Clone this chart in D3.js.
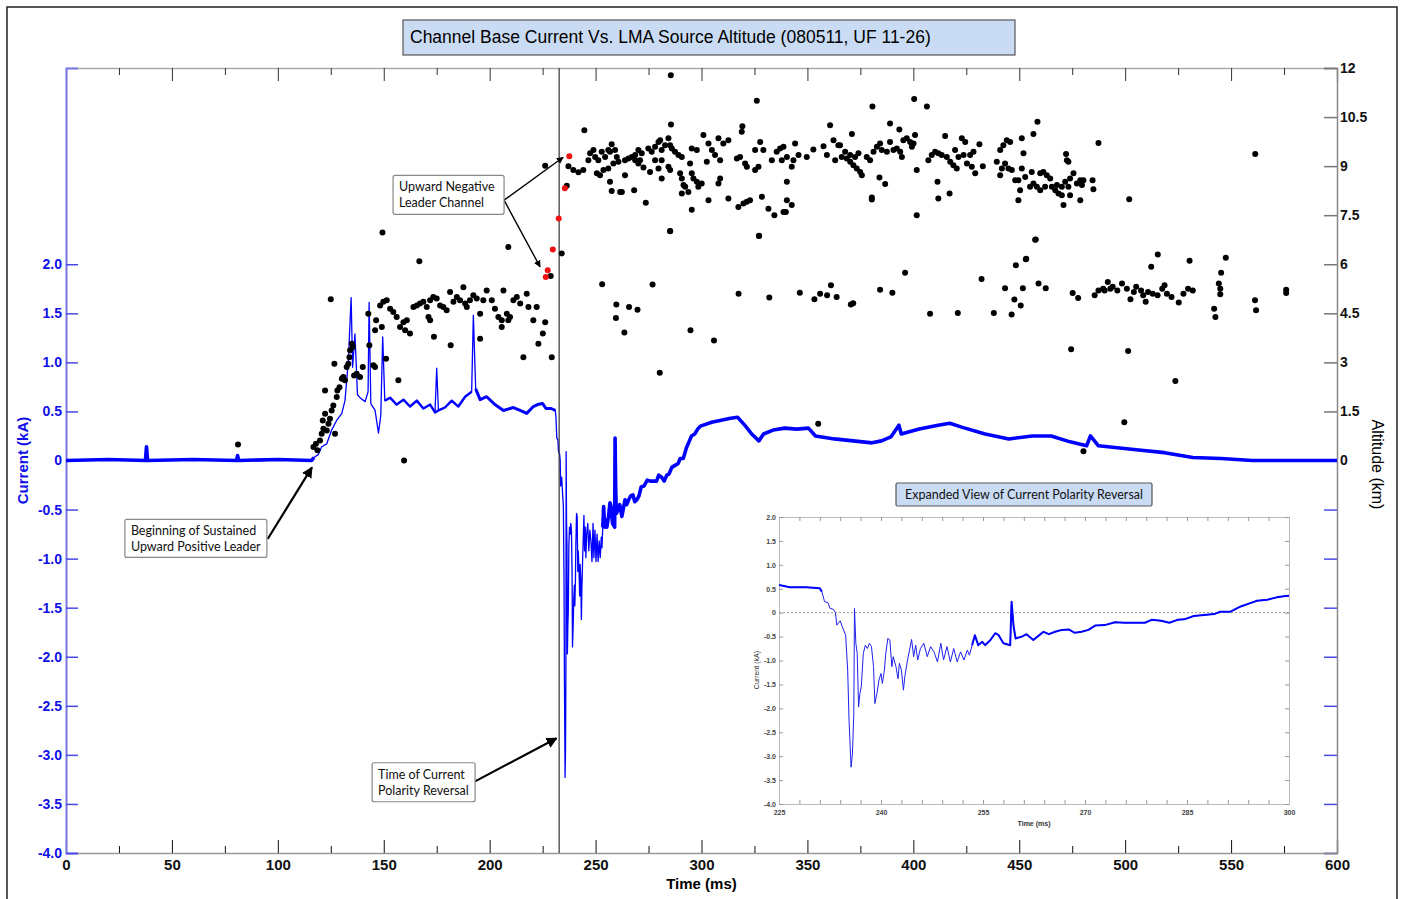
<!DOCTYPE html>
<html>
<head>
<meta charset="utf-8">
<script src="https://cdn.jsdelivr.net/npm/d3@7"></script>
<style>
  body { margin: 0; background: #fff; }
  svg { display: block; }
</style>
</head>
<body>
<div id="chart"></div>
<script>
// ---- data ----
const titleText = "Channel Base Current Vs. LMA Source Altitude (080511, UF 11-26)"
const insetTitle = "Expanded View of Current Polarity Reversal"

const timeTicks = d3.range(0, 601, 50)
const timeMinor = d3.range(25, 600, 50)
const currentTicks = [-4, -3.5, -3, -2.5, -2, -1.5, -1, -0.5, 0, 0.5, 1, 1.5, 2]
const altTicks = [0, 1.5, 3, 4.5, 6, 7.5, 9, 10.5, 12]
const insetTimeTicks = d3.range(225, 301, 3)
const insetCurrentTicks = d3.range(-4, 2.01, 0.5)

const reversalTime = 232.8

// channel base current [ms, kA]
const currentPoints = [
  [0,0],[20,0.01],[37.5,0],[38,0.14],[38.5,0],[60,0.01],[80.5,0],[81,0.05],[81.5,0],[100,0.01],
  [116,0],[117,0.03],[119.1,0.06],[120.7,0.14],[123.1,0.17],[125.4,0.31],[127.8,0.41],[130.2,0.48],
  [131.7,0.61],[133.3,1.02],[134.6,1.66],[135.3,0.95],[136.4,1.29],[137.6,0.67],[138.8,0.64],[141.2,0.6],
  [142.6,0.7],[143.1,1.61],[143.9,0.58],[145.9,0.51],[147.5,0.28],[148.6,0.46],[149.5,1.26],[150.5,0.61],
  [153,0.64],[156.1,0.57],[159.3,0.62],[162.4,0.55],[165.6,0.61],[168.7,0.53],[171.9,0.57],[174.2,0.49],
  [175,0.94],[175.8,0.51],[178.9,0.54],[182.1,0.61],[185.2,0.55],[188.4,0.65],[191.5,0.7],[192.3,1.48],
  [193.4,0.73],[195.5,0.62],[198.6,0.65],[202.5,0.57],[206.5,0.51],[211.2,0.54],[214.4,0.51],[217.5,0.48],
  [220.6,0.55],[222.6,0.57],
  [225,0.58],[226.6,0.53],[229,0.53],[231,0.51],[231.3,0.44],[231.7,0.23],[232.2,0.21],[232.5,0.09],
  [233,0.07],[233.3,0],[233.5,-0.26],[234,-0.17],[234.3,-0.29],[234.8,-0.47],[235.1,-1.2],[235.3,-2.25],
  [235.6,-3.23],[235.8,-2.95],[236,-2.11],[236.1,0.09],[236.3,-0.64],[236.5,-0.85],[236.7,-1.97],[236.9,-1.69],
  [237.1,-1.55],[237.4,-0.85],[237.7,-0.68],[238,-0.75],[238.3,-0.64],[238.6,-0.71],[238.9,-1.13],[239.1,-1.9],
  [239.4,-1.69],[239.7,-1.41],[240,-1.27],[240.2,-1.48],[240.5,-1.2],[240.7,-0.85],[241,-0.54],[241.3,-0.57],
  [241.6,-1.13],[241.8,-0.92],[242.2,-1.13],[242.5,-1.38],[242.7,-1.06],[243,-1.2],[243.3,-1.62],[243.5,-1.34],
  [243.9,-0.99],[244.2,-0.78],[244.5,-0.56],[244.8,-0.92],[245.1,-0.68],[245.4,-0.99],[245.8,-0.75],[246.3,-0.64],
  [246.8,-0.92],[247.3,-0.71],[247.8,-0.82],[248.3,-1.03],[248.8,-0.64],[249.2,-0.99],[249.7,-0.71],[250.2,-1.03],
  [250.7,-0.75],[251.2,-1.03],[251.7,-0.82],[252.2,-0.99],[252.7,-0.78],[253,-0.89],[253.4,-0.68],[253.8,-0.47],
  [254.3,-0.68],[254.9,-0.61],[255.3,-0.68],[256.1,-0.57],[256.8,-0.43],[257.3,-0.47],[258,-0.64],[259,-0.68],
  [259.2,0.23],[259.5,-0.29],[259.8,-0.54],[260.7,-0.5],[261.4,-0.45],[262.4,-0.57],[263.1,-0.49],[263.9,-0.4],
  [264.7,-0.45],[265.6,-0.4],[266.6,-0.36],[267.6,-0.35],[268.5,-0.42],[269.5,-0.4],[270.5,-0.36],[271.5,-0.27],
  [272.9,-0.26],[274.4,-0.2],[275.8,-0.21],[277.3,-0.21],[278.8,-0.21],[279.8,-0.15],[281.2,-0.17],[282.4,-0.21],
  [283.6,-0.15],[284.6,-0.14],[286,-0.07],[287.5,-0.05],[289,-0.03],[289.9,0.02],[291.4,0.02],[292.9,0.13],
  [294.3,0.2],[295.3,0.25],[296.8,0.27],[298.2,0.32],[299.5,0.35],
  [304.8,0.39],[309.3,0.41],[313.7,0.43],[317.1,0.44],[320.4,0.36],[323.7,0.27],[327.1,0.2],[329.3,0.27],
  [333.8,0.31],[339.3,0.33],[344.9,0.32],[350.5,0.33],[353.8,0.25],[362.7,0.22],[371.6,0.2],[380.5,0.18],
  [385,0.2],[389.4,0.24],[393.2,0.36],[394.3,0.27],[402.8,0.32],[411.7,0.36],[417.2,0.38],[422.8,0.34],
  [433.9,0.27],[445.1,0.22],[456.2,0.25],[465.1,0.25],[474,0.19],[481.8,0.15],[483.6,0.25],[487.4,0.15],
  [505.2,0.11],[518.6,0.08],[531.9,0.03],[545.3,0.02],[560,0],[600,0]
]

// LMA sources [ms, km]
const lmaPoints = [
  [81.2,0.49],[159.6,0],
  [116.8,0.41],[118,0.51],[118.7,0.31],[119.9,0.61],[120.7,0.82],[121.5,0.97],[121.2,1.22],[122.3,1.43],
  [123.1,0.92],[123.9,1.12],[124.6,1.28],[125.4,1.53],[126.2,1.68],[127,0.82],[127.8,1.94],[128.1,2.14],
  [129.1,2.24],[130.2,2.5],[130.9,2.55],[131.7,2.45],[132.5,2.86],[133.3,2.96],[133.8,3.16],[134.1,3.37],
  [134.9,3.57],[135.4,3.47],[136,2.6],[137.2,2.65],[138.8,2.55],[140.1,2.86],[142.7,4.49],[143.2,3.52],
  [145.1,2.91],[145.9,2.86],[151.1,3.11],[149.1,4.08],[146.4,4.29],[145.9,3.98],[125,4.93],[122.3,2.14],
  [126.7,2.96],[156.9,2.45],[149.4,6.97],[166.8,6.09],
  [148.3,4.74],[149.8,4.85],[151.4,4.9],[153,4.64],[154.5,4.54],[156.1,4.39],[157.7,4.08],[159.3,4.23],
  [160.1,3.98],[162.4,3.88],[160.9,4.29],[164,4.69],[165.6,4.74],[167.1,4.8],[168.7,4.85],[170.3,4.69],
  [171.9,4.9],[173.4,5],[175,4.95],[171.1,4.39],[171.9,4.29],[173.7,3.78],[176.6,4.74],[178.1,4.69],
  [179.7,4.59],[181.3,5.15],[182.9,4.85],[184.5,5],[186,4.9],[187.6,5.3],[188.4,4.8],[189.2,4.69],
  [190.7,4.9],[192.3,5.05],[193.9,4.95],[195.5,4.49],[197,4.9],[198.6,5.2],[201,4.9],[202.5,4.64],
  [204.1,4.39],[205.7,4.29],[205.7,4.08],[208.1,4.49],[206.5,5.2],[208.8,4.29],[209.6,4.39],[211.2,4.9],
  [212.8,5],[214.4,4.8],[217.5,5.1],[218.3,4.69],[220.6,4.29],[222.2,4.69],[223,3.57],[225.1,3.88],
  [226.2,4.23],[215.9,3.16],[229.3,3.16],[181.6,3.52],[195.5,3.72],[208.8,6.53],[226.2,9.01],[228.8,5.64],
  [234,6.33],[236.4,8.4],
  [285.5,11.78],[326.1,11],[244.7,10.1],[285.6,10.27],[319.3,10.22],[319,10.05],[360.7,10.25],[257.6,9.67],
  [256,9.49],[249,9.49],[247.4,9.39],[246.6,9.18],[249.8,9.28],[252.9,9.44],[251.3,9.18],[254.5,9.28],
  [256.8,9.44],[259.2,9.49],[260,9.28],[260.8,9.13],[258.4,9.08],[256,8.93],[253.7,8.88],[250.6,8.78],
  [252.1,8.72],[237.2,9],[239.5,8.88],[241.9,8.81],[244.2,8.88],[263.9,9.18],[265.5,9.23],[267.1,9.28],
  [268.7,9.34],[270.2,9.49],[271.8,9.39],[271,9.18],[272.6,8.96],[274.9,9.54],[276.5,9.44],[278.1,9.59],
  [279.7,9.74],[281.2,9.49],[280.5,9.79],[282.8,9.64],[284.4,9.85],[285.2,9.64],[286,9.54],[287.5,9.44],
  [289.1,9.34],[290.7,9.28],[278.1,9.18],[281.2,9.18],[279.7,8.93],[275.7,8.82],[284.4,8.98],[285.2,8.88],
  [281.2,8.62],[289.9,8.78],[290.7,8.62],[291.5,8.42],[292.3,8.37],[290.7,8.16],[293.8,8.21],[294.6,9.08],
  [295.4,9.54],[297.8,9.49],[295.4,8.78],[296.2,8.62],[297.8,8.52],[298.5,8.37],[300.1,8.47],[300.9,9.95],
  [303.3,9.69],[304.9,9.49],[306.4,9.34],[308,9.85],[308.8,9.18],[310.3,9.69],[312.7,9.79],[302.5,9.13],
  [308.8,8.62],[308,8.47],[295.4,7.67],[303.3,7.96],[312.7,8.01],[316.7,9.23],[318.2,9.28],[320.6,9.08],
  [321.4,8.98],[317.4,7.75],[319.8,7.86],[321.4,7.91],[322.9,7.96],[325.3,8.88],[326.9,8.98],[328.5,8.06],
  [325.3,9.49],[327.7,9.74],[329.2,9.49],[333.2,9.18],[335.5,9.44],[337.1,9.54],[338.7,9.59],[337.9,9.18],
  [340.3,9.28],[343.4,9.18],[342.6,8.98],[344.2,9.69],[345.8,9.34],[349.7,9.28],[352.8,9.51],[357.6,9.61],
  [359.2,9.34],[362.3,9.79],[363.1,9.18],[364.6,9.64],[366.2,9.28],[340.3,8.52],[340.3,7.96],[342.6,7.81],
  [331.6,7.7],[334.4,7.5],[338.7,7.6],[339.8,7.6],[273.7,7.88],[285.2,7.02],[327.2,6.87],[270.2,9.08],
  [268.7,9.18],[261.6,8.21],[262.4,8.21],[257.6,8.24],[256.8,8.52],[263.9,8.72],[268.2,8.26],
  [380.7,10.82],[400.4,11.05],[406.4,10.82],[389,10.3],[393.4,10.12],[400.8,9.95],[371,9.98],[365.4,9.64],
  [367.8,9.44],[368.6,9.23],[370.2,9.13],[371.7,9.03],[373.3,8.93],[374.9,8.82],[375.7,8.72],[370.2,9.34],
  [372.5,9.28],[374.1,9.39],[378,9.28],[379.6,9.18],[381.2,9.44],[382.8,9.59],[384.3,9.69],[385.1,9.49],
  [387.5,9.44],[389,9.74],[390.6,9.49],[392.2,9.54],[393.8,9.44],[394.6,9.28],[395.3,9.79],[396.9,9.85],
  [398.5,9.74],[399.3,9.59],[400.1,9.69],[401.6,8.88],[384,8.65],[386.7,8.45],[380.4,8.04],[380.4,7.98],
  [411.4,8.52],[411.8,8.01],[417.1,8.16],[401.6,7.5],[407.1,9.18],[408.7,9.34],[410.3,9.44],[411.8,9.39],
  [413.4,9.34],[415,9.92],[415.8,9.28],[417.4,9.13],[418.9,9.03],[420.5,8.93],[419.7,9.49],[421.3,9.28],
  [422.9,9.85],[424.5,9.74],[423.7,9.34],[425.3,9.08],[426.8,9.34],[427.6,8.98],[428.4,9.44],[429.2,8.78],
  [431.2,9.67],[432.8,9],[439.4,9.13],[441,9.49],[442.5,9.64],[444.1,9.79],[445.7,9.74],[441.8,8.93],
  [443.3,9.08],[444.9,8.93],[446.5,8.88],[441,8.72],[451.2,9.85],[456.7,9.98],[458.6,10.36],[452,9.39],
  [451.2,8.93],[448.1,8.57],[449.6,8.57],[452.8,8.67],[455.9,8.82],[456.7,8.47],[458.3,8.37],[459.9,8.78],
  [461.4,8.82],[463,8.72],[464.6,8.62],[455.1,8.37],[459.9,8.26],[462.2,8.37],[465.4,8.37],[467,8.26],
  [468.5,8.16],[470.1,8.37],[471.7,8.52],[473.2,8.37],[474,8.62],[475.6,8.78],[477.2,8.47],[478.8,8.57],
  [479.6,8.42],[480.3,8.57],[472.5,9.18],[473.2,9.13],[472.1,9.37],[450.4,8.26],[449.6,7.96],[470.1,8.11],
  [470.9,7.81],[478.8,7.96],[484.6,8.57],[485,8.29],[487.4,9.71],[457.5,6.75],[453.3,6.17],[474,8.11],
  [467.8,8.42],[501.9,7.99],[561.4,9.37],
  [253.1,5.39],[259.8,4.77],[259.6,4.36],[263.6,3.91],[265.8,4.69],[269.8,4.61],[276.9,5.38],[280.3,2.68],
  [285.2,7.01],[294.8,3.98],[305.9,3.67],[317.5,5.1],[327.1,6.86],[332,4.98],[346.4,5.13],[353.3,4.93],
  [356,5.1],[359.3,5.05],[361.1,5.36],[363.8,5],[370.5,4.77],[371.6,4.81],[384.3,5.22],[390.1,5.13],
  [396.1,5.74],[355.1,1.12],[407.9,4.49],[421,4.51],[432.2,5.55],[438,4.51],[443.3,5.27],[446.4,4.46],
  [447.7,4.92],[448.4,5.97],[450.7,4.74],[451.7,5.27],[453.1,6.15],[457.8,6.76],[459.1,5.41],[462.5,5.27],
  [474.5,3.4],[475.2,5.12],[477.8,4.97],[480.3,0.28],[485.6,5.05],[487.4,5.2],[489.6,5.25],[490.3,5.2],
  [491.8,5.46],[493,5.25],[494.1,5.31],[496.3,5.2],[498.5,5.41],[500.8,5.25],[502.5,4.93],[504.1,5.15],
  [505.2,5.31],[507.5,5.2],[508.5,5.05],[509.7,4.85],[510.8,5.15],[513,5.1],[515.3,5.05],[517.5,5.25],
  [518.6,5.36],[519.7,5.1],[521.9,5],[525.3,4.83],[527.5,5.1],[529.7,5.25],[531.9,5.2],[512.3,5.92],
  [515.4,6.3],[530.4,6.11],[499.6,1.17],[501.4,3.35],[523.7,2.43],[542,4.64],[542.6,4.39],[544.2,5.41],
  [544.9,5.25],[545.3,5.74],[544.9,5.08],[547.5,6.2],[561.3,4.9],[561.8,4.59],[576,5.22],[576,5.12]
]

// sources marking the upward negative leader channel [ms, km]
const leaderPoints = [[226.5,5.61],[227.4,5.82],[229.8,6.45],[232.6,7.4],[235.5,8.32],[237.6,9.3]]

// annotations: text lines, box position (ms, value on axis), arrow tips
const notes = [
  { lines: ["Upward Negative", "Leader Channel"], axis: "alt", box: [154.4, 8.72], w: 111, h: 39,
    from: [206.8, 7.96], tips: [[234.7, 9.27], [223.8, 5.92]] },
  { lines: ["Beginning of Sustained", "Upward Positive Leader"], axis: "cur", box: [27.8, -0.6], w: 142, h: 38,
    from: [95.2, -0.8], tips: [[116.1, -0.07]] },
  { lines: ["Time of Current", "Polarity Reversal"], axis: "cur", box: [144.5, -3.08], w: 103, h: 39,
    from: [193.1, -3.27], tips: [[231.6, -2.83]] }
]

// ---- layout ----
const W = 1405, H = 899
const plot = { left: 66, right: 1337, top: 68, bottom: 853 }
const inset = { left: 779, right: 1289, top: 517, bottom: 804 }
const axisFont = "'Liberation Sans', Arial, sans-serif"
const noteFont = "Lato, 'Open Sans', sans-serif"
const blue = "#0000ff"
const oneDecimal = d => Math.abs(d) < 1e-9 ? "0" : d.toFixed(1)

const svg = d3.select("#chart").append("svg")
  .attr("width", W).attr("height", H)
  .attr("viewBox", [0, 0, W, H])

// outer frame
svg.append("rect")
  .attr("x", 7).attr("y", 7).attr("width", 1390).attr("height", 905)
  .attr("fill", "none").attr("stroke", "#222").attr("stroke-width", 1.5)

// scales
const x = d3.scaleLinear().domain([0, 600]).range([plot.left, plot.right])
const yCur = d3.scaleLinear().domain([-4, 4]).range([plot.bottom, plot.top])
const yAlt = d3.scaleLinear().domain([-12, 12]).range([plot.bottom, plot.top])

svg.append("defs").append("clipPath").attr("id", "plotclip")
  .append("rect").attr("x", plot.left).attr("y", plot.top)
  .attr("width", plot.right - plot.left).attr("height", plot.bottom - plot.top)

// ---- axes ----
const styleTicks = (g, color) => g.selectAll(".tick line").attr("stroke", color)

// bottom
svg.append("g")
  .attr("transform", `translate(0,${plot.bottom})`)
  .call(d3.axisBottom(x).tickValues(timeTicks).tickSize(-13).tickPadding(6).tickFormat(d => d))
  .call(g => g.select(".domain").attr("stroke", "#999").attr("stroke-width", 1.5))
  .call(g => styleTicks(g, "#111"))
  .call(g => g.selectAll("text").attr("font-family", axisFont).attr("font-size", 15)
    .attr("font-weight", "bold").attr("fill", "#111"))
svg.append("g")
  .attr("transform", `translate(0,${plot.bottom})`)
  .call(d3.axisBottom(x).tickValues(timeMinor).tickSize(-7).tickFormat(""))
  .call(g => g.select(".domain").remove())
  .call(g => styleTicks(g, "#111"))

// top
svg.append("g")
  .attr("transform", `translate(0,${plot.top})`)
  .call(d3.axisTop(x).tickValues(timeTicks).tickSize(-13).tickFormat(""))
  .call(g => g.select(".domain").attr("stroke", "#aaa").attr("stroke-width", 1.5))
  .call(g => styleTicks(g, "#333"))
svg.append("g")
  .attr("transform", `translate(0,${plot.top})`)
  .call(d3.axisTop(x).tickValues(timeMinor).tickSize(-7).tickFormat(""))
  .call(g => g.select(".domain").remove())
  .call(g => styleTicks(g, "#333"))

// left (current)
svg.append("g")
  .attr("transform", `translate(${plot.left},0)`)
  .call(d3.axisLeft(yCur).tickValues(currentTicks).tickSize(-12).tickPadding(4).tickFormat(oneDecimal))
  .call(g => g.select(".domain").attr("stroke", "#7878e6").attr("stroke-width", 2))
  .call(g => styleTicks(g, "#4a4ae8").attr("stroke-width", 1.5))
  .call(g => g.selectAll("text").attr("font-family", axisFont).attr("font-size", 14)
    .attr("font-weight", "bold").attr("fill", "#1010e8"))

// right (altitude)
svg.append("g")
  .attr("transform", `translate(${plot.right},0)`)
  .call(d3.axisLeft(yCur).tickValues(currentTicks.filter(d => d < 0)).tickSize(13).tickFormat(""))
  .call(g => g.select(".domain").remove())
  .call(g => styleTicks(g, "#4a4ae8").attr("stroke-width", 1.5))
svg.append("g")
  .attr("transform", `translate(${plot.right},0)`)
  .call(d3.axisRight(yAlt).tickValues(altTicks).tickSize(-13).tickPadding(3).tickFormat(d => String(d)))
  .call(g => g.select(".domain").attr("stroke", "#888").attr("stroke-width", 1.5))
  .call(g => styleTicks(g, "#777").attr("stroke-width", 1.5))
  .call(g => g.selectAll("text").attr("font-family", axisFont).attr("font-size", 14)
    .attr("font-weight", "bold").attr("fill", "#111"))

// axis titles
svg.append("text")
  .attr("x", x(300)).attr("y", 889)
  .attr("text-anchor", "middle")
  .attr("font-family", axisFont).attr("font-size", 15).attr("font-weight", "bold")
  .text("Time (ms)")
svg.append("text")
  .attr("transform", `translate(28,${yCur(0)}) rotate(-90)`)
  .attr("text-anchor", "middle")
  .attr("font-family", axisFont).attr("font-size", 15).attr("font-weight", "bold")
  .attr("fill", "#1010e8")
  .text("Current (kA)")
svg.append("text")
  .attr("transform", `translate(1372,${yCur(0) + 4}) rotate(90)`)
  .attr("text-anchor", "middle")
  .attr("font-family", axisFont).attr("font-size", 16)
  .text("Altitude (km)")

// title box
svg.append("rect")
  .attr("x", 403).attr("y", 20).attr("width", 612).attr("height", 35)
  .attr("fill", "#cadcf4").attr("stroke", "#555").attr("stroke-width", 1.2)
svg.append("text")
  .attr("x", 410).attr("y", 43)
  .attr("font-family", axisFont).attr("font-size", 17.5)
  .text(titleText)

// ---- current trace ----
const curLine = d3.line().x(d => x(d[0])).y(d => yCur(d[1]))
const trace = svg.append("g").attr("clip-path", "url(#plotclip)")
trace.append("path")
  .attr("fill", "none").attr("stroke", blue).attr("stroke-width", 1.3)
  .attr("stroke-linejoin", "round")
  .attr("d", curLine(currentPoints))
// noisy band where the signal is quiet
trace.selectAll(".band")
  .data([currentPoints.filter(d => d[0] <= 119), currentPoints.filter(d => d[0] >= 253.4)])
  .join("path")
  .attr("fill", "none").attr("stroke", blue).attr("stroke-width", 3.6)
  .attr("stroke-linejoin", "round")
  .attr("d", curLine)
trace.append("path")
  .attr("fill", "none").attr("stroke", blue).attr("stroke-width", 2.4)
  .attr("stroke-linejoin", "round")
  .attr("d", curLine(currentPoints.filter(d => d[0] >= 150.5 && d[0] <= 191.5 && d[1] < 0.8)))
trace.append("path")
  .attr("fill", "none").attr("stroke", blue).attr("stroke-width", 3)
  .attr("stroke-linejoin", "round")
  .attr("d", curLine(currentPoints.filter(d => d[0] >= 193.4 && d[0] <= 231)))

// reversal marker
svg.append("line")
  .attr("x1", x(reversalTime)).attr("x2", x(reversalTime))
  .attr("y1", plot.top).attr("y2", plot.bottom)
  .attr("stroke", "#333").attr("stroke-width", 1.2)

// ---- LMA sources ----
svg.append("g").attr("clip-path", "url(#plotclip)")
  .selectAll("circle.lma").data(lmaPoints).join("circle")
  .attr("cx", d => x(d[0])).attr("cy", d => yAlt(d[1])).attr("r", 3)
  .attr("fill", "#000")
svg.append("g")
  .selectAll("circle.red").data(leaderPoints).join("circle")
  .attr("cx", d => x(d[0])).attr("cy", d => yAlt(d[1])).attr("r", 3)
  .attr("fill", "#ee1111")

// ---- annotations ----
svg.append("defs").append("marker")
  .attr("id", "arrow").attr("viewBox", "0 0 10 10")
  .attr("refX", 9).attr("refY", 5)
  .attr("markerWidth", 5).attr("markerHeight", 5)
  .attr("orient", "auto")
  .append("path").attr("d", "M0,0 L10,5 L0,10 z").attr("fill", "#000")

notes.forEach(n => {
  const ys = n.axis === "alt" ? yAlt : yCur
  const bx = x(n.box[0]), by = ys(n.box[1])
  n.tips.forEach(t => {
    svg.append("line")
      .attr("x1", x(n.from[0])).attr("y1", ys(n.from[1]))
      .attr("x2", x(t[0])).attr("y2", ys(t[1]))
      .attr("stroke", "#000").attr("stroke-width", n.axis === "alt" ? 1.4 : 2.2)
      .attr("marker-end", "url(#arrow)")
  })
  svg.append("rect")
    .attr("x", bx).attr("y", by).attr("width", n.w).attr("height", n.h).attr("rx", 2)
    .attr("fill", "#fff").attr("stroke", "#888").attr("stroke-width", 1.2)
  svg.append("text")
    .attr("font-family", noteFont).attr("font-size", 12.5).attr("fill", "#111")
    .selectAll("tspan").data(n.lines).join("tspan")
    .attr("x", bx + 6).attr("y", (d, i) => by + 16 + i * 16)
    .text(d => d)
})

// ---- inset ----
const xi = d3.scaleLinear().domain([225, 300]).range([inset.left, inset.right])
const yi = d3.scaleLinear().domain([-4, 2]).range([inset.bottom, inset.top])
const ins = svg.append("g")

ins.append("rect")
  .attr("x", inset.left).attr("y", inset.top)
  .attr("width", inset.right - inset.left).attr("height", inset.bottom - inset.top)
  .attr("fill", "#fff")

svg.append("defs").append("clipPath").attr("id", "insetclip")
  .append("rect").attr("x", inset.left).attr("y", inset.top)
  .attr("width", inset.right - inset.left).attr("height", inset.bottom - inset.top)

const tinyText = g => g.selectAll("text").attr("font-family", axisFont).attr("font-size", 7)
  .attr("font-weight", "bold").attr("fill", "#444")

ins.append("g")
  .attr("transform", `translate(0,${inset.bottom})`)
  .call(d3.axisBottom(xi).tickValues(insetTimeTicks).tickSize(-4).tickPadding(6)
    .tickFormat(d => (d - 225) % 15 === 0 ? d : ""))
  .call(g => g.select(".domain").attr("stroke", "#bbb"))
  .call(g => styleTicks(g, "#999"))
  .call(tinyText)
ins.append("g")
  .attr("transform", `translate(0,${inset.top})`)
  .call(d3.axisTop(xi).tickValues(insetTimeTicks).tickSize(-4).tickFormat(""))
  .call(g => g.select(".domain").attr("stroke", "#bbb"))
  .call(g => styleTicks(g, "#999"))
ins.append("g")
  .attr("transform", `translate(${inset.left},0)`)
  .call(d3.axisLeft(yi).tickValues(insetCurrentTicks).tickSize(-4).tickPadding(3).tickFormat(oneDecimal))
  .call(g => g.select(".domain").attr("stroke", "#bbb"))
  .call(g => styleTicks(g, "#999"))
  .call(tinyText)
ins.append("g")
  .attr("transform", `translate(${inset.right},0)`)
  .call(d3.axisRight(yi).tickValues(insetCurrentTicks).tickSize(-4).tickFormat(""))
  .call(g => g.select(".domain").attr("stroke", "#bbb"))
  .call(g => styleTicks(g, "#999"))

ins.append("line")
  .attr("x1", inset.left).attr("x2", inset.right)
  .attr("y1", yi(0)).attr("y2", yi(0))
  .attr("stroke", "#999").attr("stroke-dasharray", "2,2")

const insLine = d3.line().x(d => xi(d[0])).y(d => yi(d[1]))
const insData = currentPoints.filter(d => d[0] >= 222 && d[0] <= 305)
const insTrace = ins.append("g").attr("clip-path", "url(#insetclip)")
insTrace.append("path")
  .attr("fill", "none").attr("stroke", "#2020ee").attr("stroke-width", 1)
  .attr("stroke-linejoin", "round")
  .attr("d", insLine(insData))
insTrace.selectAll(".band")
  .data([insData.filter(d => d[0] <= 231.3), insData.filter(d => d[0] >= 253.4)])
  .join("path")
  .attr("fill", "none").attr("stroke", blue).attr("stroke-width", 2)
  .attr("stroke-linejoin", "round")
  .attr("d", insLine)

ins.append("text")
  .attr("x", (inset.left + inset.right) / 2).attr("y", 826)
  .attr("text-anchor", "middle")
  .attr("font-family", axisFont).attr("font-size", 7).attr("font-weight", "bold").attr("fill", "#333")
  .text("Time (ms)")
ins.append("text")
  .attr("transform", `translate(759,${yi(-1.2)}) rotate(-90)`)
  .attr("text-anchor", "middle")
  .attr("font-family", axisFont).attr("font-size", 7).attr("fill", "#333")
  .text("Current (kA)")

ins.append("rect")
  .attr("x", 896).attr("y", 483).attr("width", 256).attr("height", 23).attr("rx", 1.5)
  .attr("fill", "#cadcf4").attr("stroke", "#555").attr("stroke-width", 1.2)
ins.append("text")
  .attr("x", 1024).attr("y", 499)
  .attr("text-anchor", "middle")
  .attr("font-family", noteFont).attr("font-size", 12.5).attr("fill", "#111")
  .text(insetTitle)
</script>
</body>
</html>
